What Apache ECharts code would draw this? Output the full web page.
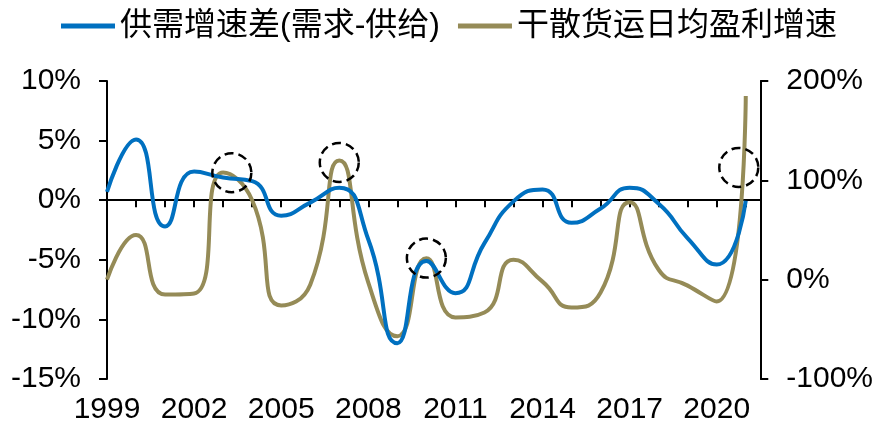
<!DOCTYPE html>
<html>
<head>
<meta charset="utf-8">
<script src="https://cdn.jsdelivr.net/npm/echarts@6/dist/echarts.min.js"></script>
<style>
  html, body { margin: 0; padding: 0; background: #fff; }
  #chart { width: 876px; height: 425px; }
</style>
</head>
<body>
<div id="chart"></div>
<script>
// Annual series, 1999-2021
const years = [1999, 2000, 2001, 2002, 2003, 2004, 2005, 2006, 2007, 2008, 2009, 2010,
               2011, 2012, 2013, 2014, 2015, 2016, 2017, 2018, 2019, 2020, 2021];

// 供需增速差(需求-供给), %, left axis
const gapSeries = [0.7, 5.1, -2.2, 2.4, 1.9, 1.6, -1.3, -0.2, 1.05, -3.3, -12.0, -5.1,
                   -7.8, -3.6, -0.1, 0.9, -1.9, -0.7, 1.05, -0.3, -3.2, -5.4, -0.05];

// 干散货运日均盈利增速, %, right axis
const profitSeries = [0, 45, -15, -14, 108, 80, -26, -5, 120, -3, -57, 21.5,
                      -38, -33, 20, -2, -28, -13, 78, 10, -6, -22, 185];

// Highlighted spots on the profit curve: [year, %]
const highlights = [[2003.3, 107.7], [2007.0, 118], [2010.0, 21.7], [2020.76, 113]];

// Axis ranges and tick steps
const leftAxis = { min: -15, max: 10, step: 5 };
const rightAxis = { min: -100, max: 200, step: 100 };
const xRange = { min: 1999, max: 2021.5, labelStep: 3 };

const FONT = '"Liberation Sans", "Noto Sans CJK SC", sans-serif';
const BLUE = '#0070C0';
const GOLD = '#958B57';

const chart = echarts.init(document.getElementById('chart'), null, { renderer: 'canvas' });

chart.setOption({
  animation: false,
  textStyle: { fontFamily: FONT, color: '#000' },
  grid: { left: 107, right: 109, top: 81, bottom: 45, containLabel: false },
  legend: {
    left: 61,
    top: 8,
    padding: 0,
    itemWidth: 54,
    itemHeight: 5,
    itemGap: 18,
    icon: 'rect',
    textStyle: { fontSize: 32, fontFamily: FONT, color: '#000', lineHeight: 36 },
    data: ['供需增速差(需求-供给)', '干散货运日均盈利增速']
  },
  xAxis: [
    {
      // year labels along the bottom
      type: 'value',
      min: xRange.min,
      max: xRange.max,
      interval: xRange.labelStep,
      position: 'bottom',
      axisLine: { show: false, onZero: false },
      axisTick: { show: false },
      splitLine: { show: false },
      axisLabel: {
        fontSize: 30,
        margin: 16,
        color: '#000',
        showMaxLabel: false,
        formatter: v => (Number.isInteger(v) && (v - xRange.min) % xRange.labelStep === 0) ? String(v) : ''
      }
    },
    {
      // baseline through 0% with a tick at every year
      type: 'value',
      min: xRange.min,
      max: xRange.max,
      interval: 1,
      position: 'bottom',
      axisLine: { show: true, onZero: true, onZeroAxisIndex: 0, lineStyle: { color: '#000', width: 2 } },
      axisTick: { show: true, length: 7, lineStyle: { color: '#000', width: 2 } },
      axisLabel: { show: false },
      splitLine: { show: false }
    }
  ],
  yAxis: [
    {
      type: 'value',
      position: 'left',
      min: leftAxis.min,
      max: leftAxis.max,
      interval: leftAxis.step,
      axisLine: { show: true, onZero: false, lineStyle: { color: '#000', width: 2 } },
      axisTick: { show: true, length: 8, lineStyle: { color: '#000', width: 2 } },
      splitLine: { show: false },
      axisLabel: { fontSize: 30, margin: 26, color: '#000', formatter: '{value}%' }
    },
    {
      type: 'value',
      position: 'right',
      min: rightAxis.min,
      max: rightAxis.max,
      interval: rightAxis.step,
      axisLine: { show: true, onZero: false, lineStyle: { color: '#000', width: 2 } },
      axisTick: { show: true, length: 8, lineStyle: { color: '#000', width: 2 } },
      splitLine: { show: false },
      axisLabel: { fontSize: 30, margin: 26, color: '#000', formatter: '{value}%' }
    }
  ],
  series: [
    {
      name: '供需增速差(需求-供给)',
      type: 'line',
      xAxisIndex: 0,
      yAxisIndex: 0,
      smooth: 0.55,
      showSymbol: false,
      symbol: 'none',
      lineStyle: { color: BLUE, width: 4 },
      itemStyle: { color: BLUE },
      z: 3,
      data: years.map((y, i) => [y, gapSeries[i]])
    },
    {
      name: '干散货运日均盈利增速',
      type: 'line',
      xAxisIndex: 0,
      yAxisIndex: 1,
      smooth: 0.55,
      showSymbol: false,
      symbol: 'none',
      lineStyle: { color: GOLD, width: 4 },
      itemStyle: { color: GOLD },
      z: 2,
      data: years.map((y, i) => [y, profitSeries[i]]),
      markPoint: {
        symbol: 'circle',
        symbolSize: 39,
        silent: true,
        label: { show: false },
        itemStyle: {
          color: 'rgba(0,0,0,0)',
          borderColor: '#000',
          borderWidth: 2.5,
          borderType: [9, 5]
        },
        data: highlights.map(p => ({ coord: p }))
      }
    }
  ]
});
</script>
</body>
</html>
